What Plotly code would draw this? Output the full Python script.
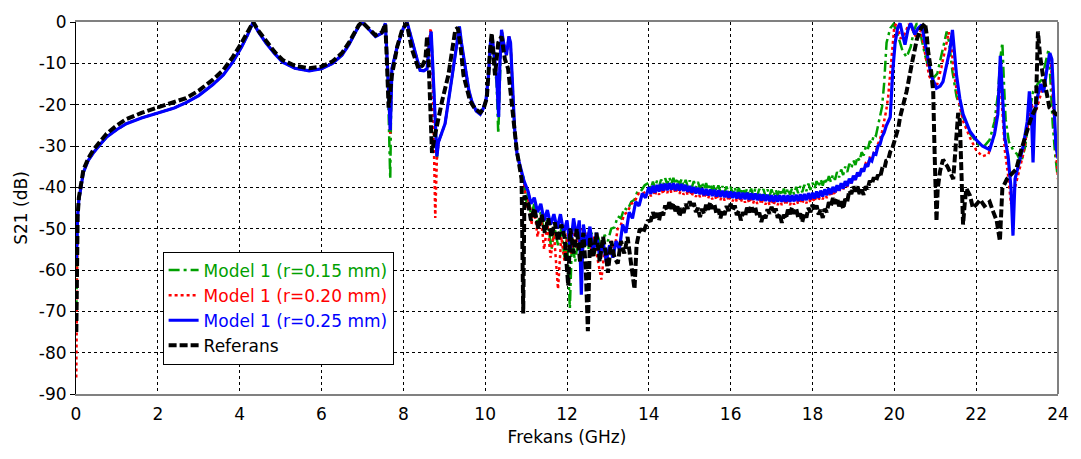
import plotly.graph_objects as go

# ---- S21 magnitude (dB) versus frequency (GHz) ----

# onset of each curve right at 0 GHz
green_start = [(0.008, -70.0), (0.015, -60.0), (0.025, -53.0)]
red_start = [(0.006, -86.0), (0.012, -72.0), (0.02, -58.0), (0.03, -52.0)]
blue_start = [(0.01, -58.0), (0.02, -52.0), (0.03, -49.0)]
ref_start = [(0.008, -75.0), (0.015, -63.0), (0.025, -53.0)]

# 0 - 7.6 GHz, shared by the three models
model_low = [
    (0.04, -47.0), (0.07, -43.0), (0.12, -39.5), (0.18, -36.4), (0.3, -33.5),
    (0.42, -31.7), (0.6, -29.5), (0.75, -27.8), (1.0, -26.0), (1.23, -24.6),
    (1.6, -23.2), (2.0, -22.0), (2.4, -20.8), (2.69, -19.5), (3.0, -17.8),
    (3.34, -15.2), (3.6, -12.8), (3.83, -9.7), (4.05, -6.0), (4.2, -3.0),
    (4.33, 0.0), (4.45, -2.3), (4.64, -5.0), (4.85, -7.6), (5.05, -9.7),
    (5.35, -11.2), (5.7, -11.8), (6.0, -11.3), (6.26, -10.1), (6.5, -8.0),
    (6.67, -5.5), (6.8, -3.0), (6.91, -1.0), (6.99, 0.0), (7.15, -1.6),
    (7.32, -3.5), (7.48, -2.7), (7.56, -0.3),
]
ref_low = [
    (0.04, -47.0), (0.07, -42.5), (0.12, -39.0), (0.18, -35.8), (0.3, -33.0),
    (0.42, -31.0), (0.6, -28.8), (0.75, -27.0), (1.0, -25.0), (1.23, -23.5),
    (1.6, -22.0), (2.0, -20.7), (2.4, -19.5), (2.69, -18.4), (3.0, -16.6),
    (3.34, -14.0), (3.6, -11.6), (3.83, -8.5), (4.05, -5.0), (4.2, -2.5),
    (4.33, 0.0), (4.45, -2.0), (4.64, -4.6), (4.85, -7.2), (5.05, -9.2),
    (5.35, -10.6), (5.7, -11.2), (6.0, -10.8), (6.26, -9.6), (6.5, -7.5),
    (6.67, -5.0), (6.8, -2.6), (6.91, -0.8), (6.99, 0.0), (7.15, -1.4),
    (7.32, -3.2), (7.48, -2.4), (7.56, -0.5),
]

# 7.6 - 11 GHz resonances
blue_band = [
    (7.62, -12.0), (7.68, -26.2), (7.70, -20.0), (7.72, -11.3), (7.85, -6.0),
    (8.0, -1.5), (8.09, 0.0), (8.25, -6.0), (8.41, -11.7), (8.5, -11.8),
    (8.58, -11.3), (8.64, -5.0), (8.68, -2.3), (8.74, -15.0), (8.8, -28.0),
    (8.82, -32.5), (8.86, -29.0), (9.02, -24.6), (9.15, -16.0), (9.25, -9.0),
    (9.33, -3.0), (9.37, -1.1), (9.42, -5.0), (9.51, -11.3), (9.6, -16.5),
    (9.67, -19.1), (9.78, -21.5), (9.88, -22.3), (9.95, -21.0), (10.02, -19.0),
    (10.08, -13.0), (10.13, -5.0), (10.17, -3.5), (10.22, -8.0), (10.28, -13.0),
    (10.33, -23.0), (10.36, -10.0), (10.40, -1.9), (10.45, -5.0), (10.52, -8.0),
    (10.58, -3.5), (10.62, -5.0), (10.66, -14.0), (10.72, -26.0), (10.78, -32.0),
    (10.85, -35.0), (10.95, -38.5),
]
green_band = [
    (7.62, -14.0), (7.68, -38.0), (7.70, -22.0), (7.72, -11.3), (7.85, -6.0),
    (8.0, -1.5), (8.09, 0.0), (8.25, -6.0), (8.41, -11.7), (8.5, -11.8),
    (8.58, -11.3), (8.64, -5.0), (8.68, -2.3), (8.74, -15.0), (8.8, -29.0),
    (8.82, -33.0), (8.86, -29.0), (9.02, -24.6), (9.15, -16.0), (9.25, -9.0),
    (9.33, -3.0), (9.37, -1.1), (9.42, -5.0), (9.51, -11.3), (9.6, -16.5),
    (9.67, -19.1), (9.78, -21.5), (9.88, -22.3), (9.95, -21.0), (10.02, -19.0),
    (10.08, -13.0), (10.13, -5.0), (10.17, -3.5), (10.22, -9.0), (10.28, -15.0),
    (10.32, -27.0), (10.36, -12.0), (10.40, -2.0), (10.45, -5.0), (10.52, -8.0),
    (10.58, -3.5), (10.62, -5.0), (10.66, -14.0), (10.72, -26.0), (10.78, -32.0),
    (10.85, -35.0), (10.95, -38.0),
]
red_band = [
    (7.62, -12.0), (7.68, -27.0), (7.70, -20.0), (7.72, -11.3), (7.85, -6.0),
    (8.0, -1.5), (8.09, 0.0), (8.25, -6.0), (8.41, -11.7), (8.5, -11.8),
    (8.58, -11.3), (8.64, -4.0), (8.67, -1.5), (8.72, -15.0), (8.76, -35.0),
    (8.78, -47.4), (8.82, -33.0), (8.86, -29.0), (9.02, -24.6), (9.15, -16.0),
    (9.25, -9.0), (9.33, -3.0), (9.37, -1.1), (9.42, -5.0), (9.51, -11.3),
    (9.6, -16.5), (9.67, -19.1), (9.78, -21.5), (9.88, -22.3), (9.95, -21.0),
    (10.02, -19.0), (10.08, -13.0), (10.13, -5.0), (10.17, -3.5), (10.22, -8.0),
    (10.28, -13.0), (10.33, -22.0), (10.36, -10.0), (10.40, -1.9), (10.45, -5.0),
    (10.52, -8.0), (10.58, -3.5), (10.62, -5.0), (10.66, -14.0), (10.72, -26.0),
    (10.78, -32.0), (10.85, -35.0), (10.95, -39.0),
]
ref_band = [
    (7.60, -10.0), (7.64, -20.7), (7.68, -17.0), (7.72, -12.9), (7.85, -6.0),
    (7.97, -1.9), (8.08, -0.3), (8.21, -6.6), (8.37, -11.3), (8.47, -10.5),
    (8.54, -8.9), (8.58, -3.5), (8.62, -10.0), (8.70, -31.7), (8.76, -28.0),
    (8.82, -25.0), (8.95, -19.0), (9.10, -12.9), (9.20, -6.0), (9.27, -1.9),
    (9.33, -1.4), (9.40, -6.0), (9.47, -12.9), (9.63, -19.1), (9.75, -21.0),
    (9.88, -21.9), (9.96, -21.0), (10.04, -18.4), (10.12, -6.6), (10.16, -2.7),
    (10.24, -12.9), (10.32, -5.0), (10.40, -3.5), (10.48, -8.9), (10.56, -11.3),
    (10.65, -20.7), (10.77, -30.9), (10.89, -38.0), (10.93, -70.5), (10.96, -42.0),
]

# 11 - 14 GHz stop band (dense ripple)
blue_stop = [
    (11.05, -41.0), (11.12, -44.0), (11.2, -42.5), (11.28, -46.0), (11.36, -44.0),
    (11.44, -48.0), (11.52, -45.5), (11.6, -49.0), (11.68, -46.5), (11.76, -50.0),
    (11.84, -46.5), (11.92, -51.0), (12.0, -48.0), (12.08, -55.0), (12.16, -47.5),
    (12.24, -52.0), (12.3, -48.0), (12.35, -66.0), (12.4, -49.0), (12.48, -54.0),
    (12.56, -49.5), (12.64, -56.0), (12.72, -51.0), (12.8, -57.0), (12.88, -53.0),
    (12.96, -58.0), (13.04, -54.0), (13.12, -57.0), (13.2, -53.0), (13.28, -55.0),
    (13.36, -49.0), (13.44, -51.0), (13.52, -46.0), (13.6, -47.5), (13.68, -43.5),
    (13.76, -44.5), (13.84, -41.5), (13.92, -42.5),
]
green_stop = [
    (11.0, -44.0), (11.05, -41.0), (11.12, -47.0), (11.2, -44.0), (11.28, -49.0),
    (11.36, -46.0), (11.44, -51.0), (11.52, -48.0), (11.62, -55.0), (11.7, -50.0),
    (11.78, -54.0), (11.86, -50.0), (11.94, -57.0), (12.0, -52.0), (12.07, -69.3),
    (12.12, -53.0), (12.2, -58.0), (12.28, -52.0), (12.36, -57.0), (12.44, -51.0),
    (12.52, -55.0), (12.6, -51.0), (12.68, -56.0), (12.76, -52.0), (12.84, -55.0),
    (12.92, -51.5), (13.0, -53.0), (13.08, -50.0), (13.16, -49.7), (13.24, -47.0),
    (13.32, -47.5), (13.4, -45.0), (13.48, -45.5), (13.57, -43.5), (13.65, -43.0),
    (13.72, -41.0), (13.8, -41.0), (13.9, -39.5),
]
red_stop = [
    (11.02, -45.0), (11.08, -42.0), (11.13, -49.0), (11.2, -45.0), (11.28, -52.0),
    (11.36, -47.0), (11.44, -55.0), (11.52, -49.0), (11.6, -57.0), (11.68, -51.0),
    (11.78, -64.6), (11.86, -52.0), (11.94, -58.0), (12.02, -51.0), (12.1, -56.0),
    (12.18, -50.0), (12.26, -55.0), (12.34, -50.0), (12.42, -54.0), (12.5, -51.0),
    (12.58, -55.0), (12.66, -52.0), (12.74, -57.0), (12.84, -62.3), (12.92, -55.0),
    (13.0, -59.0), (13.08, -53.0), (13.16, -55.0), (13.24, -50.0), (13.32, -49.0),
    (13.4, -46.5), (13.48, -46.0), (13.57, -44.0), (13.65, -43.5), (13.75, -41.5),
    (13.85, -41.5),
]
ref_stop = [
    (11.05, -44.0), (11.12, -48.0), (11.2, -45.0), (11.3, -50.0), (11.38, -46.6),
    (11.46, -51.0), (11.54, -47.5), (11.62, -52.0), (11.7, -48.5), (11.78, -53.0),
    (11.86, -49.0), (11.94, -52.0), (12.03, -63.8), (12.08, -50.0), (12.16, -56.0),
    (12.24, -50.0), (12.32, -58.0), (12.4, -51.0), (12.46, -60.0), (12.51, -74.8),
    (12.56, -52.0), (12.64, -57.0), (12.72, -51.0), (12.8, -58.0), (12.88, -52.0),
    (12.95, -56.0), (13.0, -60.7), (13.08, -53.0), (13.16, -57.0), (13.24, -58.4),
    (13.32, -53.0), (13.4, -56.0), (13.48, -52.0), (13.56, -58.0), (13.65, -64.6),
    (13.7, -54.0), (13.78, -50.0), (13.86, -51.0), (13.97, -48.2),
]

# 14 - 20 GHz pass-band floor with fine ripple (0.05 GHz steps)
blue_floor = [
    (14.00, -40.0), (14.05, -41.6), (14.10, -39.6), (14.15, -41.3), (14.20, -39.4),
    (14.25, -41.0), (14.30, -39.2), (14.35, -40.8), (14.40, -39.1), (14.45, -40.7),
    (14.50, -39.0), (14.55, -40.6), (14.60, -39.0), (14.65, -40.7), (14.70, -39.1),
    (14.75, -40.8), (14.80, -39.2), (14.85, -40.9), (14.90, -39.4), (14.95, -41.1),
    (15.00, -39.7), (15.05, -41.3), (15.10, -39.9), (15.15, -41.5), (15.20, -40.1),
    (15.25, -41.7), (15.30, -40.2), (15.35, -41.9), (15.40, -40.4), (15.45, -42.0),
    (15.50, -40.5), (15.55, -42.1), (15.60, -40.6), (15.65, -42.2), (15.70, -40.7),
    (15.75, -42.3), (15.80, -40.8), (15.85, -42.4), (15.90, -40.9), (15.95, -42.5),
    (16.00, -41.0), (16.05, -42.6), (16.10, -41.1), (16.15, -42.7), (16.20, -41.2),
    (16.25, -42.8), (16.30, -41.3), (16.35, -42.9), (16.40, -41.3), (16.45, -43.0),
    (16.50, -41.4), (16.55, -43.0), (16.60, -41.5), (16.65, -43.1), (16.70, -41.6),
    (16.75, -43.2), (16.80, -41.7), (16.85, -43.3), (16.90, -41.8), (16.95, -43.4),
    (17.00, -41.9), (17.05, -43.5), (17.10, -41.9), (17.15, -43.5), (17.20, -41.9),
    (17.25, -43.5), (17.30, -41.9), (17.35, -43.5), (17.40, -41.9), (17.45, -43.5),
    (17.50, -41.9), (17.55, -43.4), (17.60, -41.8), (17.65, -43.3), (17.70, -41.7),
    (17.75, -43.2), (17.80, -41.6), (17.85, -43.1), (17.90, -41.4), (17.95, -42.9),
    (18.00, -41.3), (18.05, -42.7), (18.10, -41.0), (18.15, -42.5), (18.20, -40.8),
    (18.25, -42.2), (18.30, -40.5), (18.35, -41.9), (18.40, -40.2), (18.45, -41.6),
    (18.50, -39.9), (18.55, -41.2), (18.60, -39.5), (18.65, -40.8), (18.70, -39.0),
    (18.75, -40.3), (18.80, -38.5), (18.85, -39.7), (18.90, -37.9), (18.95, -39.0),
    (19.00, -37.2), (19.05, -38.2), (19.10, -36.4), (19.15, -37.3), (19.20, -35.5),
    (19.25, -36.2), (19.30, -34.4), (19.35, -35.0), (19.40, -33.2), (19.45, -33.6),
    (19.50, -31.8), (19.55, -32.0), (19.60, -30.0), (19.65, -29.6), (19.70, -27.8),
    (19.75, -26.8), (19.80, -25.2), (19.85, -24.0), (19.90, -23.0),
]
green_floor = [
    (14.00, -38.9), (14.05, -40.4), (14.10, -38.6), (14.15, -40.1), (14.20, -38.4),
    (14.25, -39.8), (14.30, -38.1), (14.35, -39.5), (14.40, -37.8), (14.45, -39.3),
    (14.50, -37.6), (14.55, -39.2), (14.60, -37.7), (14.65, -39.3), (14.70, -37.8),
    (14.75, -39.5), (14.80, -38.0), (14.85, -39.7), (14.90, -38.2), (14.95, -39.8),
    (15.00, -38.3), (15.05, -40.0), (15.10, -38.5), (15.15, -40.2), (15.20, -38.7),
    (15.25, -40.3), (15.30, -38.8), (15.35, -40.5), (15.40, -39.0), (15.45, -40.7),
    (15.50, -39.1), (15.55, -40.8), (15.60, -39.3), (15.65, -41.0), (15.70, -39.5),
    (15.75, -41.1), (15.80, -39.7), (15.85, -41.3), (15.90, -39.8), (15.95, -41.5),
    (16.00, -39.9), (16.05, -41.6), (16.10, -40.0), (16.15, -41.7), (16.20, -40.1),
    (16.25, -41.7), (16.30, -40.2), (16.35, -41.8), (16.40, -40.3), (16.45, -41.9),
    (16.50, -40.3), (16.55, -42.0), (16.60, -40.4), (16.65, -42.0), (16.70, -40.4),
    (16.75, -42.0), (16.80, -40.4), (16.85, -42.1), (16.90, -40.5), (16.95, -42.1),
    (17.00, -40.5), (17.05, -42.1), (17.10, -40.5), (17.15, -42.0), (17.20, -40.4),
    (17.25, -42.0), (17.30, -40.3), (17.35, -41.9), (17.40, -40.2), (17.45, -41.8),
    (17.50, -40.2), (17.55, -41.7), (17.60, -39.9), (17.65, -41.4), (17.70, -39.7),
    (17.75, -41.2), (17.80, -39.4), (17.85, -40.9), (17.90, -39.1), (17.95, -40.6),
    (18.00, -38.9), (18.05, -40.3), (18.10, -38.5), (18.15, -39.9), (18.20, -38.1),
    (18.25, -39.6), (18.30, -37.8), (18.35, -39.1), (18.40, -37.3), (18.45, -38.7),
    (18.50, -36.9), (18.55, -38.2), (18.60, -36.3), (18.65, -37.6), (18.70, -35.7),
    (18.75, -37.0), (18.80, -35.0), (18.85, -36.3), (18.90, -34.3), (18.95, -35.4),
    (19.00, -33.5), (19.05, -34.6), (19.10, -32.6), (19.15, -33.6), (19.20, -31.5),
    (19.25, -32.3), (19.30, -30.2), (19.35, -30.9), (19.40, -28.8), (19.45, -29.4),
    (19.50, -27.2), (19.55, -27.5), (19.60, -25.0), (19.65, -23.0), (19.70, -20.5),
    (19.75, -15.0), (19.78, -10.0),
]
red_floor = [
    (14.00, -40.6), (14.05, -42.2), (14.10, -40.4), (14.15, -42.0), (14.20, -40.2),
    (14.25, -41.8), (14.30, -40.0), (14.35, -41.6), (14.40, -39.8), (14.45, -41.4),
    (14.50, -39.7), (14.55, -41.3), (14.60, -39.8), (14.65, -41.4), (14.70, -39.9),
    (14.75, -41.6), (14.80, -40.1), (14.85, -41.8), (14.90, -40.3), (14.95, -41.9),
    (15.00, -40.4), (15.05, -42.1), (15.10, -40.6), (15.15, -42.3), (15.20, -40.8),
    (15.25, -42.4), (15.30, -40.9), (15.35, -42.6), (15.40, -41.1), (15.45, -42.7),
    (15.50, -41.2), (15.55, -42.9), (15.60, -41.3), (15.65, -43.0), (15.70, -41.4),
    (15.75, -43.1), (15.80, -41.5), (15.85, -43.2), (15.90, -41.6), (15.95, -43.3),
    (16.00, -41.7), (16.05, -43.4), (16.10, -41.8), (16.15, -43.5), (16.20, -41.9),
    (16.25, -43.6), (16.30, -42.0), (16.35, -43.7), (16.40, -42.1), (16.45, -43.8),
    (16.50, -42.2), (16.55, -43.9), (16.60, -42.3), (16.65, -44.0), (16.70, -42.4),
    (16.75, -44.1), (16.80, -42.5), (16.85, -44.2), (16.90, -42.6), (16.95, -44.3),
    (17.00, -42.7), (17.05, -44.3), (17.10, -42.7), (17.15, -44.3), (17.20, -42.7),
    (17.25, -44.3), (17.30, -42.7), (17.35, -44.3), (17.40, -42.7), (17.45, -44.3),
    (17.50, -42.7), (17.55, -44.2), (17.60, -42.6), (17.65, -44.1), (17.70, -42.5),
    (17.75, -44.0), (17.80, -42.3), (17.85, -43.9), (17.90, -42.1), (17.95, -43.7),
    (18.00, -42.2), (18.05, -43.5), (18.10, -41.8), (18.15, -43.2), (18.20, -41.5),
    (18.25, -42.9), (18.30, -41.2), (18.35, -42.6), (18.40, -40.8), (18.45, -42.2),
    (18.50, -40.7), (18.55, -41.8), (18.60, -40.0), (18.65, -41.2), (18.70, -39.4),
    (18.75, -40.6), (18.80, -38.7), (18.85, -39.9), (18.90, -38.0), (18.95, -39.1),
    (19.00, -37.4), (19.05, -38.2), (19.10, -36.4), (19.15, -37.2), (19.20, -35.4),
    (19.25, -36.0), (19.30, -34.2), (19.35, -34.6), (19.40, -32.8), (19.45, -33.0),
    (19.50, -31.6), (19.55, -31.2), (19.60, -29.5), (19.65, -28.4), (19.70, -26.5),
    (19.75, -24.2), (19.80, -21.5), (19.85, -18.0),
]
ref_floor = [
    (14.05, -48.0), (14.10, -46.0), (14.15, -47.6), (14.20, -46.2), (14.25, -48.0),
    (14.30, -45.6), (14.35, -46.8), (14.40, -44.4), (14.45, -45.6), (14.50, -43.6),
    (14.55, -45.2), (14.60, -43.8), (14.65, -45.8), (14.70, -44.6), (14.75, -47.0),
    (14.80, -45.0), (14.85, -46.2), (14.90, -44.0), (14.95, -45.2), (15.00, -43.4),
    (15.05, -45.0), (15.10, -43.8), (15.15, -46.0), (15.20, -45.0), (15.25, -47.2),
    (15.30, -45.2), (15.35, -46.4), (15.40, -44.2), (15.45, -45.4), (15.50, -43.6),
    (15.55, -45.2), (15.60, -44.0), (15.65, -46.3), (15.70, -45.3), (15.75, -47.5),
    (15.80, -45.5), (15.85, -46.7), (15.90, -44.5), (15.95, -45.7), (16.00, -44.0),
    (16.05, -45.6), (16.10, -44.4), (16.15, -46.7), (16.20, -45.7), (16.25, -48.0),
    (16.30, -46.0), (16.35, -47.1), (16.40, -44.9), (16.45, -46.1), (16.50, -44.4),
    (16.55, -46.0), (16.60, -44.8), (16.65, -47.1), (16.70, -46.1), (16.75, -48.4),
    (16.80, -46.4), (16.85, -47.5), (16.90, -45.3), (16.95, -46.4), (17.00, -44.7),
    (17.05, -46.3), (17.10, -45.1), (17.15, -47.4), (17.20, -46.4), (17.25, -48.6),
    (17.30, -46.6), (17.35, -47.6), (17.40, -45.4), (17.45, -46.5), (17.50, -44.8),
    (17.55, -46.4), (17.60, -45.1), (17.65, -47.3), (17.70, -46.3), (17.75, -48.4),
    (17.80, -46.3), (17.85, -47.3), (17.90, -45.0), (17.95, -46.0), (18.00, -44.2),
    (18.05, -45.7), (18.10, -44.4), (18.15, -46.6), (18.20, -45.4), (18.25, -47.4),
    (18.30, -45.2), (18.35, -46.0), (18.40, -43.6), (18.45, -44.5), (18.50, -42.6),
    (18.55, -44.0), (18.60, -42.6), (18.65, -44.6), (18.70, -43.4), (18.75, -45.2),
    (18.80, -42.8), (18.85, -43.4), (18.90, -40.8), (18.95, -41.6), (19.00, -39.8),
    (19.05, -41.0), (19.10, -39.8), (19.15, -41.6), (19.20, -40.6), (19.25, -41.8),
    (19.30, -39.8), (19.35, -40.4), (19.40, -38.4), (19.45, -39.2), (19.50, -37.6),
    (19.55, -38.6), (19.60, -37.0), (19.65, -37.6), (19.70, -35.6), (19.75, -35.8),
    (19.80, -33.6), (19.85, -33.4), (19.90, -31.4), (19.95, -30.6), (20.00, -28.8),
    (20.05, -27.5), (20.10, -25.5),
]

# 20 - 24 GHz upper resonances
blue_high = [
    (19.96, -12.0), (20.02, -5.0), (20.08, -1.5), (20.14, -0.3), (20.2, -3.0),
    (20.26, -5.5), (20.33, -2.0), (20.4, -0.3), (20.5, -3.0), (20.58, -1.5),
    (20.67, -0.7), (20.73, -4.0), (20.79, -7.4), (20.9, -13.0), (21.03, -16.0),
    (21.12, -15.5), (21.19, -14.4), (21.28, -10.0), (21.36, -6.6), (21.42, -1.9),
    (21.47, -7.0), (21.52, -12.9), (21.6, -18.5), (21.68, -22.3), (21.85, -26.5),
    (22.0, -28.5), (22.15, -30.0), (22.33, -30.9), (22.45, -27.0), (22.53, -22.3),
    (22.59, -8.2), (22.64, -18.0), (22.7, -28.0), (22.78, -32.5), (22.85, -40.0),
    (22.9, -51.7), (22.95, -38.0), (23.05, -34.0), (23.15, -30.0), (23.25, -24.0),
    (23.3, -16.8), (23.35, -22.0), (23.39, -34.0), (23.43, -22.0), (23.5, -18.0),
    (23.58, -15.0), (23.65, -17.0), (23.72, -12.0), (23.8, -7.5), (23.85, -9.0),
    (23.9, -22.0), (23.95, -30.0), (24.0, -33.0),
]
green_high = [
    (19.81, -5.0), (19.9, -1.5), (19.98, -0.5), (20.08, -3.0), (20.2, -7.0),
    (20.3, -8.5), (20.4, -6.0), (20.48, -2.0), (20.55, -0.3), (20.62, -2.0),
    (20.75, -8.0), (20.85, -11.5), (20.95, -13.6), (21.05, -12.5), (21.15, -8.0),
    (21.22, -4.5), (21.28, -2.3), (21.34, -5.0), (21.42, -12.0), (21.52, -18.0),
    (21.68, -23.0), (21.85, -27.0), (22.0, -29.0), (22.09, -30.1), (22.2, -30.0),
    (22.33, -28.5), (22.45, -24.0), (22.53, -17.6), (22.6, -8.0), (22.64, -5.0),
    (22.68, -15.0), (22.72, -23.5), (22.8, -29.0), (22.9, -30.9), (23.0, -32.0),
    (23.1, -34.0), (23.2, -30.0), (23.3, -22.0), (23.39, -16.8), (23.5, -15.0),
    (23.6, -14.0), (23.7, -10.0), (23.77, -6.6), (23.82, -15.0), (23.87, -24.6),
    (23.93, -32.0), (23.99, -37.2),
]
red_high = [
    (19.93, -8.0), (20.0, -1.0), (20.06, -0.3), (20.15, -4.0), (20.25, -3.0),
    (20.35, -0.5), (20.45, -2.0), (20.55, -4.0), (20.65, -2.0), (20.75, -8.0),
    (20.85, -13.0), (20.95, -15.0), (21.05, -15.0), (21.15, -11.0), (21.25, -6.0),
    (21.33, -2.5), (21.38, -4.0), (21.45, -12.0), (21.55, -18.0), (21.68, -24.0),
    (21.85, -28.0), (22.0, -31.0), (22.15, -32.5), (22.3, -32.0), (22.45, -27.0),
    (22.53, -20.0), (22.58, -12.0), (22.63, -20.0), (22.7, -31.0), (22.78, -37.0),
    (22.85, -44.0), (22.95, -40.0), (23.05, -36.0), (23.15, -32.0), (23.25, -26.0),
    (23.35, -20.0), (23.45, -22.0), (23.59, -16.8), (23.68, -14.0), (23.75, -10.0),
    (23.82, -8.0), (23.88, -20.0), (23.95, -30.0), (24.0, -38.0),
]
ref_high = [
    (20.14, -23.0), (20.3, -16.8), (20.42, -10.5), (20.55, -4.2), (20.65, -1.5),
    (20.75, -0.3), (20.79, -3.0), (20.83, -7.4), (20.9, -12.0), (20.95, -16.8),
    (20.98, -30.0), (21.03, -48.2), (21.06, -40.3), (21.12, -36.0), (21.19, -33.3),
    (21.3, -35.0), (21.44, -38.0), (21.5, -30.0), (21.56, -22.0), (21.6, -23.8),
    (21.64, -38.0), (21.68, -49.0), (21.72, -44.0), (21.76, -40.3), (21.85, -42.0),
    (21.92, -45.0), (22.0, -44.2), (22.1, -43.0), (22.2, -44.5), (22.33, -43.5),
    (22.42, -46.0), (22.5, -48.0), (22.58, -53.0), (22.62, -45.0), (22.64, -40.3),
    (22.75, -38.0), (22.85, -37.0), (22.98, -35.6), (23.1, -31.0), (23.22, -27.0),
    (23.35, -23.0), (23.46, -20.7), (23.51, -2.3), (23.56, -8.0), (23.63, -12.9),
    (23.72, -17.0), (23.79, -20.7), (23.88, -21.5), (23.95, -22.3), (24.0, -22.5),
]

x_ticks = [0, 2, 4, 6, 8, 10, 12, 14, 16, 18, 20, 22, 24]
y_ticks = [0, -10, -20, -30, -40, -50, -60, -70, -80, -90]
y_tick_text = ["0", "-10", "-20", "-30", "-40", "-50", "-60", "-70", "-80", "-90"]


def join(*parts):
    pts = [p for part in parts for p in part]
    return [p[0] for p in pts], [p[1] for p in pts]


series = [
    ("Model 1 (r=0.15 mm)", "#00A000", "11px,4px,3px,4px", 2.5,
     join(green_start, model_low, green_band, green_stop, green_floor, green_high)),
    ("Model 1 (r=0.20 mm)", "#FF0000", "3px,3px", 2.5,
     join(red_start, model_low, red_band, red_stop, red_floor, red_high)),
    ("Model 1 (r=0.25 mm)", "#0000FF", "solid", 3.2,
     join(blue_start, model_low, blue_band, blue_stop, blue_floor, blue_high)),
    ("Referans", "#000000", "8px,3px", 4,
     join(ref_start, ref_low, ref_band, ref_stop, ref_floor, ref_high)),
]

FONT = "DejaVu Sans"
FS = 17

fig = go.Figure()
for name, color, dash, width, (fx, fy) in series:
    fig.add_trace(go.Scatter(
        x=fx, y=fy, mode="lines",
        name=f'<span style="color:{color}">{name}</span>',
        line=dict(color=color, dash=dash, width=width),
    ))

fig.update_layout(
    width=1081, height=459,
    margin=dict(l=76, r=19, t=12, b=65),
    paper_bgcolor="white", plot_bgcolor="white",
    font=dict(family=FONT, size=FS, color="black"),
    showlegend=True,
    legend=dict(
        x=0.0882, y=0.383, xanchor="left", yanchor="top",
        bgcolor="white", bordercolor="black", borderwidth=1,
        font=dict(family=FONT, size=FS),
        itemwidth=30, tracegroupgap=0,
    ),
    xaxis=dict(
        range=[0, 24], tickvals=x_ticks,
        showgrid=True, gridcolor="black", griddash="dot", gridwidth=1,
        zeroline=False, showline=True, linecolor="#808080", linewidth=2,
        mirror=True, ticks="", ticklabelstandoff=4,
        tickfont=dict(family=FONT, size=FS),
        title=dict(text="Frekans (GHz)", font=dict(family=FONT, size=FS), standoff=8),
    ),
    yaxis=dict(
        range=[-90, 0], tickvals=y_ticks, ticktext=y_tick_text,
        showgrid=True, gridcolor="black", griddash="dot", gridwidth=1,
        zeroline=False, showline=True, linecolor="black", linewidth=1,
        ticks="outside", ticklen=5, tickcolor="black",
        tickfont=dict(family=FONT, size=FS),
        title=dict(text="S21 (dB)", font=dict(family=FONT, size=FS), standoff=6),
    ),
    shapes=[dict(type="line", xref="paper", yref="paper", x0=1, x1=1, y0=0, y1=1,
                 line=dict(color="#808080", width=2))],
)

fig.write_html("out.html")
